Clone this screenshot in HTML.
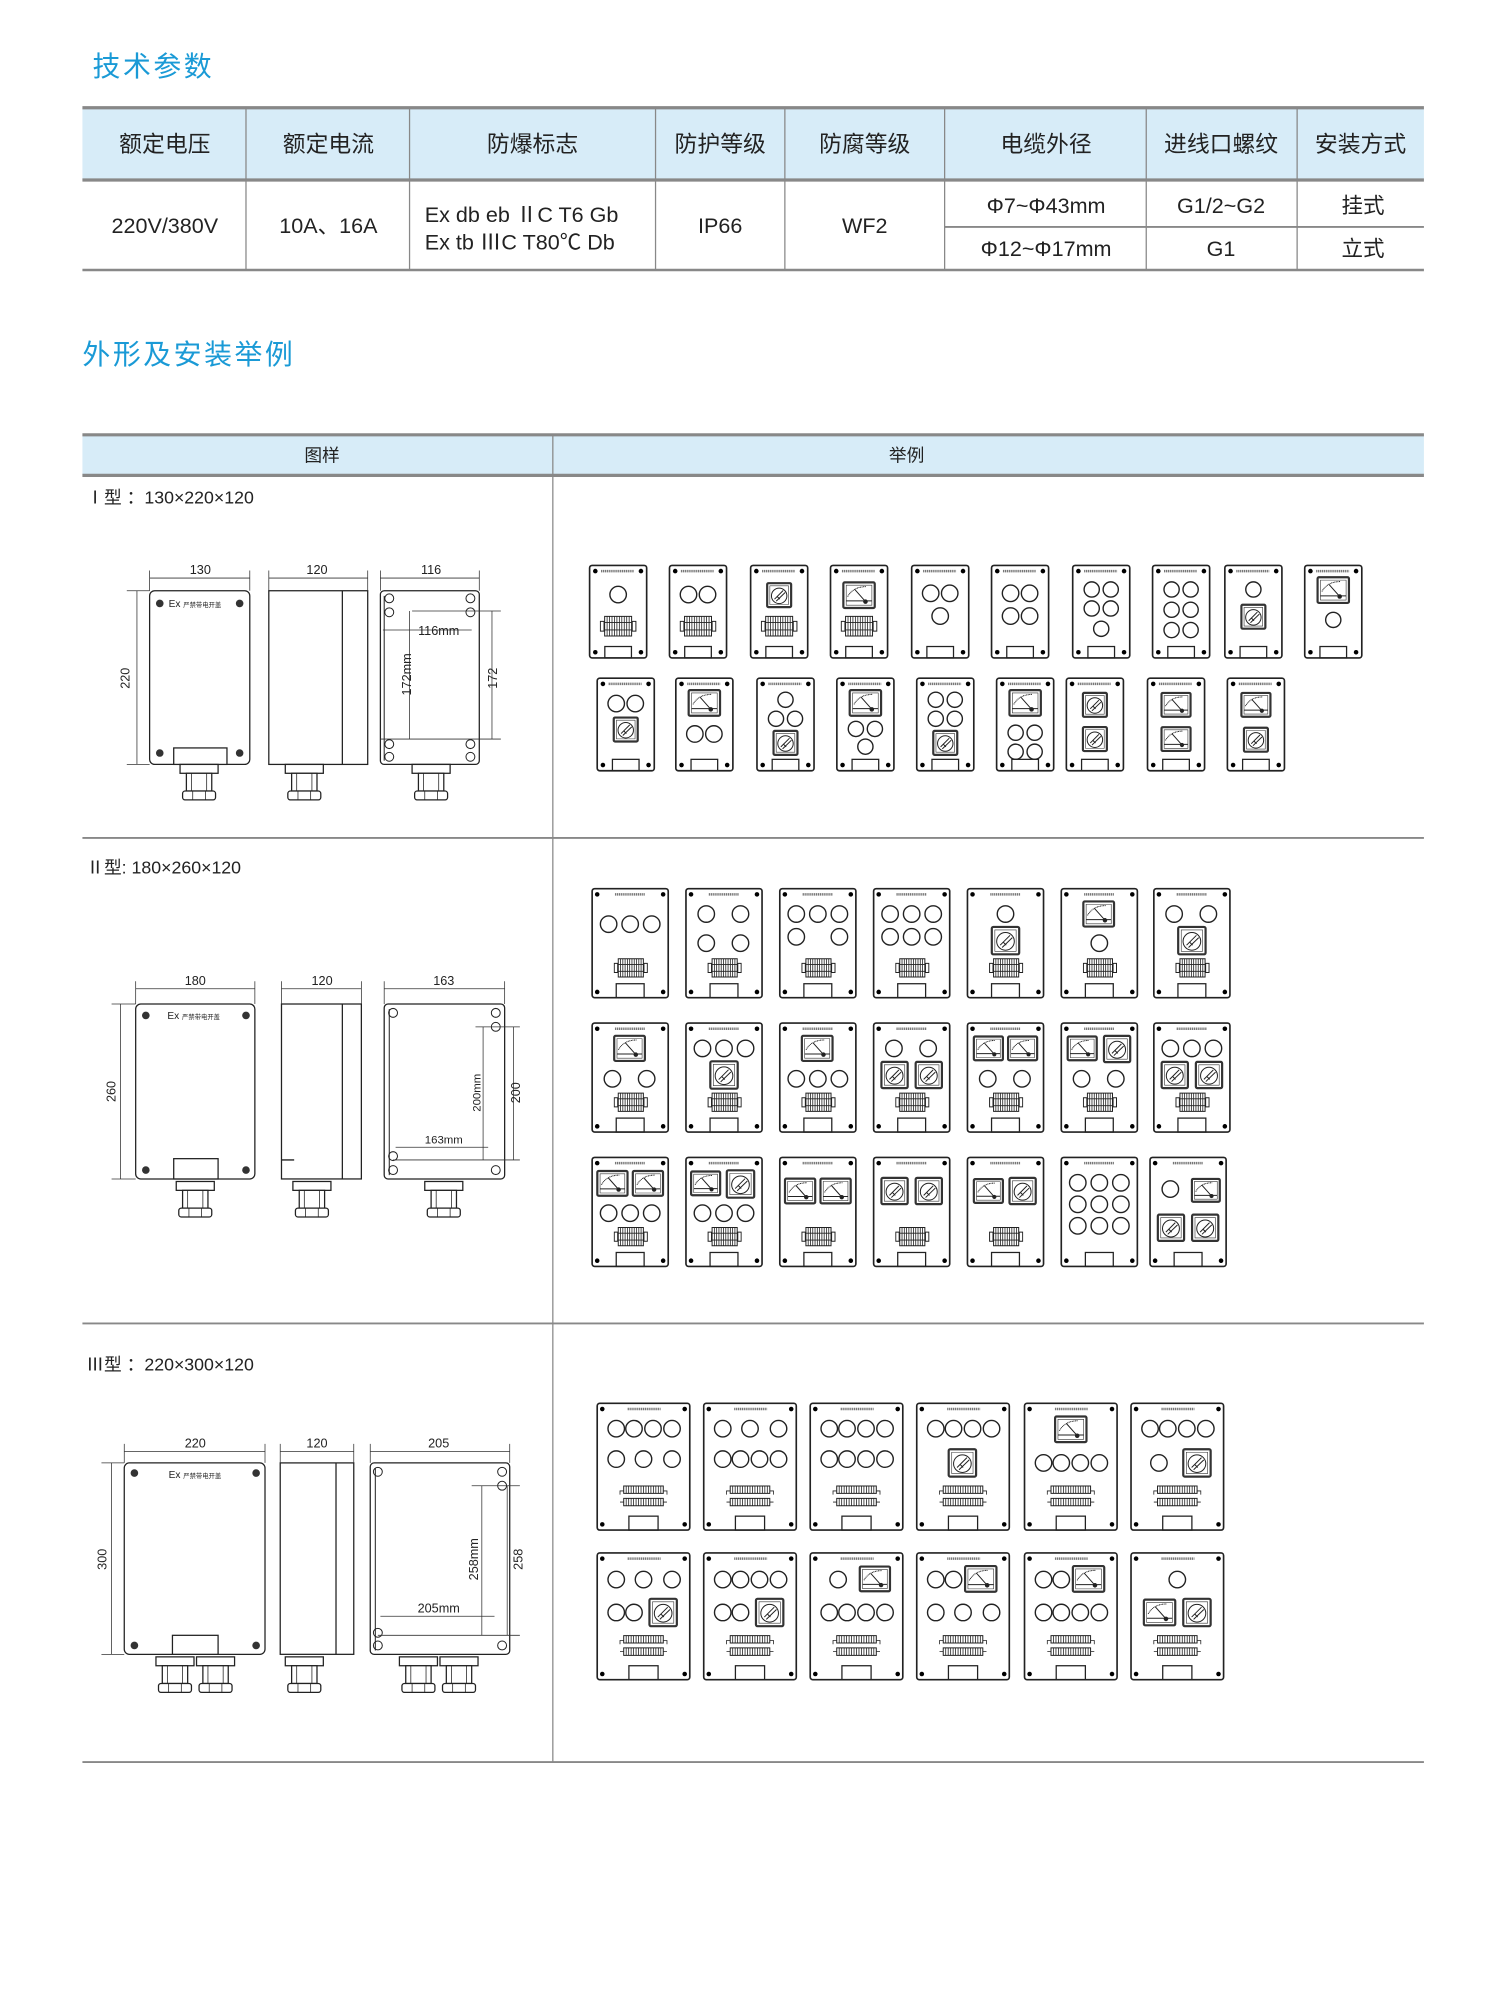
<!DOCTYPE html>
<html><head><meta charset="utf-8">
<style>
html,body{margin:0;padding:0;background:#fff;}
svg{display:block;}
.t{font-family:"Liberation Sans","Noto Sans CJK SC",sans-serif;fill:#222;}
.h{font-family:"Liberation Sans","Noto Sans CJK SC",sans-serif;fill:#1a9ad6;}
.p circle{fill:none;stroke:#222;stroke-width:1.1;}
.p circle.d{fill:#222;stroke:none;}
.dl{stroke:#333;stroke-width:.6;fill:none;}
.ol{stroke:#222;stroke-width:1;fill:#fff;}
</style></head><body>
<svg width="1500" height="1989" viewBox="0 0 1183 1569" preserveAspectRatio="none" xmlns="http://www.w3.org/2000/svg">
<defs>
<symbol id="sw" viewBox="0 0 20 20"><rect x="1" y="1" width="18" height="18" rx="1" fill="#fff" stroke="#333" stroke-width="2.2" vector-effect="non-scaling-stroke"/><rect x="3" y="3" width="14" height="14" fill="none" stroke="#333" stroke-width=".6" vector-effect="non-scaling-stroke"/><circle cx="10" cy="10.5" r="5.8" fill="none" stroke="#222" stroke-width="1" vector-effect="non-scaling-stroke"/><path d="M6.5 13 L13 6.5 M7.8 14.5 L14.5 8 M8.5 11 l2 2" stroke="#222" stroke-width="1" fill="none" vector-effect="non-scaling-stroke"/></symbol>
<symbol id="mt" viewBox="0 0 24 20"><rect x="1" y="1" width="22" height="18" rx="1" fill="#fff" stroke="#333" stroke-width="2.2" vector-effect="non-scaling-stroke"/><rect x="3" y="3" width="18" height="14" fill="none" stroke="#333" stroke-width=".6" vector-effect="non-scaling-stroke"/><path d="M4 11 Q8 4 17 4" stroke="#222" stroke-dasharray="1 .6" stroke-width="1" fill="none" vector-effect="non-scaling-stroke"/><path d="M9 6 L17 15 M3 14 H21" stroke="#222" stroke-width="1" fill="none" vector-effect="non-scaling-stroke"/><circle cx="16.5" cy="14.5" r="1.6" fill="#222"/></symbol>
<symbol id="tb" viewBox="0 0 30 18"><rect x="0.5" y="5" width="3" height="8" fill="#fff" stroke="#222" stroke-width="1" vector-effect="non-scaling-stroke"/><rect x="26.5" y="5" width="3" height="8" fill="#fff" stroke="#222" stroke-width="1" vector-effect="non-scaling-stroke"/><rect x="4" y="1" width="22" height="16" fill="#fff" stroke="#222" stroke-width="1" vector-effect="non-scaling-stroke"/><path d="M6 1V17M8 1V17M10 1V17M12 1V17M14 1V17M16 1V17M18 1V17M20 1V17M22 1V17M24 1V17M4 6H26M4 12H26" stroke="#222" stroke-width=".8" vector-effect="non-scaling-stroke"/></symbol>
<symbol id="tb3" viewBox="0 0 40 18"><rect x="4" y="1" width="32" height="6" fill="#fff" stroke="#222" stroke-width="1" vector-effect="non-scaling-stroke"/><rect x="4" y="11" width="32" height="6" fill="#fff" stroke="#222" stroke-width="1" vector-effect="non-scaling-stroke"/><path d="M1 8V5H4M39 8V5H36M1 14H4M36 14H39M6 1V7M8 1V7M10 1V7M12 1V7M14 1V7M16 1V7M18 1V7M20 1V7M22 1V7M24 1V7M26 1V7M28 1V7M30 1V7M32 1V7M34 1V7M6 11V17M8 11V17M10 11V17M12 11V17M14 11V17M16 11V17M18 11V17M20 11V17M22 11V17M24 11V17M26 11V17M28 11V17M30 11V17M32 11V17M34 11V17" stroke="#222" stroke-width=".8" fill="none" vector-effect="non-scaling-stroke"/></symbol>
<g id="F1"><rect x="0" y="0" width="45" height="73" rx="2" fill="#fff" stroke="#222" stroke-width="1.3"/><circle class="d" cx="4.5" cy="4.5" r="1.8"/><circle class="d" cx="40.5" cy="4.5" r="1.8"/><circle class="d" cx="4.5" cy="68.5" r="1.8"/><circle class="d" cx="40.5" cy="68.5" r="1.8"/><path d="M9 4.5H35" stroke="#777" stroke-width="2" stroke-dasharray="1 .5"/><rect x="12" y="64" width="21" height="9" fill="none" stroke="#222" stroke-width="1"/></g>
<g id="F2"><rect x="0" y="0" width="60" height="86" rx="2" fill="#fff" stroke="#222" stroke-width="1.3"/><circle class="d" cx="4" cy="4.5" r="1.8"/><circle class="d" cx="56" cy="4.5" r="1.8"/><circle class="d" cx="4" cy="81.5" r="1.8"/><circle class="d" cx="56" cy="81.5" r="1.8"/><path d="M18 4.5H42" stroke="#777" stroke-width="2" stroke-dasharray="1 .5"/><rect x="19" y="75" width="22" height="11" fill="none" stroke="#222" stroke-width="1"/></g>
<g id="F3"><rect x="0" y="0" width="73" height="100" rx="2" fill="#fff" stroke="#222" stroke-width="1.3"/><circle class="d" cx="4" cy="4.5" r="1.8"/><circle class="d" cx="69" cy="4.5" r="1.8"/><circle class="d" cx="4" cy="95.5" r="1.8"/><circle class="d" cx="69" cy="95.5" r="1.8"/><path d="M24 4.5H50" stroke="#777" stroke-width="2" stroke-dasharray="1 .5"/><rect x="25" y="89" width="23" height="11" fill="none" stroke="#222" stroke-width="1"/></g>
<g id="GL"><rect x="-15" y="0" width="30" height="7" fill="#fff" stroke="#222" stroke-width="1"/><rect x="-10" y="7" width="20" height="14" fill="#fff" stroke="#222" stroke-width="1"/><path d="M-6 7V21M6 7V21" stroke="#222" stroke-width=".6"/><rect x="-13" y="21" width="26" height="7" rx="2" fill="#fff" stroke="#222" stroke-width="1"/><path d="M-5 21V28M5 21V28" stroke="#222" stroke-width=".6"/></g>
</defs>

<text class="h" x="73" y="60" font-size="22" letter-spacing="2">技术参数</text>
<text class="h" x="65" y="287" font-size="22" letter-spacing="2">外形及安装举例</text>

<rect x="65" y="85" width="1058" height="57" fill="#d7ecf8"/>
<g stroke="#888" fill="none">
<path d="M65 85H1123M65 142H1123" stroke-width="2.5"/>
<path d="M65 213H1123" stroke-width="2"/>
<path d="M745 179H1123" stroke-width="1.5"/>
<path d="M194 85V213M323 85V213M517 85V213M619 85V213M745 85V213M904 85V213M1023 85V213" stroke-width="1"/>
</g>
<g class="t" font-size="18" text-anchor="middle">
<text x="130" y="120">额定电压</text><text x="259" y="120">额定电流</text><text x="420" y="120">防爆标志</text><text x="568" y="120">防护等级</text><text x="682" y="120">防腐等级</text><text x="825" y="120">电缆外径</text><text x="963" y="120">进线口螺纹</text><text x="1073" y="120">安装方式</text>
</g>
<g class="t" font-size="17" text-anchor="middle">
<text x="130" y="184">220V/380V</text><text x="259" y="184">10A、16A</text>
<text x="568" y="184">IP66</text><text x="682" y="184">WF2</text>
<text x="825" y="168">Φ7~Φ43mm</text><text x="825" y="202">Φ12~Φ17mm</text>
<text x="963" y="168">G1/2~G2</text><text x="963" y="202">G1</text>
<text x="1075" y="168">挂式</text><text x="1075" y="202">立式</text>
</g>
<g class="t" font-size="17"><text x="335" y="175">Ex db eb ⅡC T6 Gb</text><text x="335" y="197">Ex tb ⅢC T80℃ Db</text></g>

<rect x="65" y="343" width="1058" height="32" fill="#d7ecf8"/>
<g stroke="#888" fill="none">
<path d="M65 343H1123M65 375H1123" stroke-width="2.5"/>
<path d="M65 661H1123M65 1044H1123M65 1390H1123" stroke-width="1.5"/>
<path d="M436 343V1390" stroke-width="1"/>
</g>
<g class="t" font-size="14" text-anchor="middle"><text x="254" y="364">图样</text><text x="715" y="364">举例</text></g>
<g class="t" font-size="14"><text x="68" y="397">Ⅰ型 ：130×220×120</text><text x="68" y="689">Ⅱ型: 180×260×120</text><text x="68" y="1081">Ⅲ型 ：220×300×120</text></g>

<g>
<rect class="ol" x="118" y="466" width="79" height="137" rx="4"/>
<circle cx="126" cy="476" r="3" fill="#333"/><circle cx="189" cy="476" r="3" fill="#333"/><circle cx="126" cy="594" r="3" fill="#333"/><circle cx="189" cy="594" r="3" fill="#333"/>
<text class="t" x="133" y="479" font-size="8">Ex <tspan font-size="5">严禁带电开盖</tspan></text>
<rect class="ol" x="137" y="590" width="42" height="13"/>
<use href="#GL" x="157" y="603"/>
<path class="dl" d="M118 450V466M197 450V466M118 456H197M100 466H118M100 603H118M108 466V603"/>
<text class="t" x="158" y="453" font-size="10" text-anchor="middle">130</text>
<text class="t" font-size="10" text-anchor="middle" transform="translate(102 535) rotate(-90)">220</text>
<rect class="ol" x="212" y="466" width="78" height="137"/>
<path d="M270 466V603" stroke="#222" stroke-width="1"/>
<use href="#GL" x="240" y="603"/>
<path class="dl" d="M212 450V466M290 450V466M212 456H290"/>
<text class="t" x="250" y="453" font-size="10" text-anchor="middle">120</text>
<rect class="ol" x="300" y="466" width="78" height="137" rx="3"/>
<g fill="none" stroke="#222" stroke-width=".8"><circle cx="307" cy="472" r="3.5"/><circle cx="371" cy="472" r="3.5"/><circle cx="307" cy="597" r="3.5"/><circle cx="371" cy="597" r="3.5"/><circle cx="307" cy="483" r="3.5"/><circle cx="371" cy="483" r="3.5"/><circle cx="307" cy="587" r="3.5"/><circle cx="371" cy="587" r="3.5"/><path d="M303 470V600"/></g>
<use href="#GL" x="340" y="603"/>
<path class="dl" d="M300 450V466M378 450V466M300 456H378M302 497H372M325 482H395M300 583H395M323 482V583M388 482V583"/>
<text class="t" x="340" y="453" font-size="10" text-anchor="middle">116</text>
<text class="t" x="346" y="501" font-size="10" text-anchor="middle">116mm</text>
<text class="t" font-size="10" text-anchor="middle" transform="translate(324 532) rotate(-90)">172mm</text>
<text class="t" font-size="10" text-anchor="middle" transform="translate(392 535) rotate(-90)">172</text>
</g>

<g>
<rect class="ol" x="107" y="792" width="94" height="138" rx="4"/>
<circle cx="115" cy="801" r="3" fill="#333"/><circle cx="194" cy="801" r="3" fill="#333"/><circle cx="115" cy="923" r="3" fill="#333"/><circle cx="194" cy="923" r="3" fill="#333"/>
<text class="t" x="132" y="804" font-size="8">Ex <tspan font-size="5">严禁带电开盖</tspan></text>
<rect class="ol" x="137" y="914" width="35" height="16"/>
<use href="#GL" x="154" y="932"/>
<path class="dl" d="M107 774V792M201 774V792M107 780H201M88 792H107M88 930H107M95 792V930"/>
<text class="t" x="154" y="777" font-size="10" text-anchor="middle">180</text>
<text class="t" font-size="10" text-anchor="middle" transform="translate(91 861) rotate(-90)">260</text>
<rect class="ol" x="222" y="792" width="63" height="138"/>
<path d="M270 792V930M222 915H232" stroke="#222" stroke-width="1"/>
<use href="#GL" x="246" y="932"/>
<path class="dl" d="M222 774V792M285 774V792M222 780H285"/>
<text class="t" x="254" y="777" font-size="10" text-anchor="middle">120</text>
<rect class="ol" x="303" y="792" width="95" height="138" rx="3"/>
<g fill="none" stroke="#222" stroke-width=".8"><circle cx="310" cy="799" r="3.5"/><circle cx="391" cy="799" r="3.5"/><circle cx="310" cy="923" r="3.5"/><circle cx="391" cy="923" r="3.5"/><circle cx="391" cy="810" r="3.5"/><circle cx="310" cy="912" r="3.5"/><path d="M307 796V927"/></g>
<use href="#GL" x="350" y="932"/>
<path class="dl" d="M303 774V792M398 774V792M303 780H398M312 905H385M381 810V915M375 810H410M310 915H410M405 810V915"/>
<text class="t" x="350" y="777" font-size="10" text-anchor="middle">163</text>
<text class="t" x="350" y="902" font-size="9" text-anchor="middle">163mm</text>
<text class="t" font-size="9" text-anchor="middle" transform="translate(379 862) rotate(-90)">200mm</text>
<text class="t" font-size="10" text-anchor="middle" transform="translate(410 862) rotate(-90)">200</text>
</g>

<g>
<rect class="ol" x="98" y="1154" width="111" height="151" rx="4"/>
<circle cx="106" cy="1162" r="3" fill="#333"/><circle cx="202" cy="1162" r="3" fill="#333"/><circle cx="106" cy="1298" r="3" fill="#333"/><circle cx="202" cy="1298" r="3" fill="#333"/>
<text class="t" x="133" y="1166" font-size="8">Ex <tspan font-size="5">严禁带电开盖</tspan></text>
<rect class="ol" x="136" y="1290" width="36" height="15"/>
<use href="#GL" x="138" y="1307"/><use href="#GL" x="170" y="1307"/>
<path class="dl" d="M98 1139V1154M209 1139V1154M98 1145H209M80 1154H98M80 1305H98M88 1154V1305"/>
<text class="t" x="154" y="1142" font-size="10" text-anchor="middle">220</text>
<text class="t" font-size="10" text-anchor="middle" transform="translate(84 1230) rotate(-90)">300</text>
<rect class="ol" x="221" y="1154" width="58" height="151"/>
<path d="M265 1154V1305" stroke="#222" stroke-width="1"/>
<use href="#GL" x="240" y="1307"/>
<path class="dl" d="M221 1139V1154M279 1139V1154M221 1145H279"/>
<text class="t" x="250" y="1142" font-size="10" text-anchor="middle">120</text>
<rect class="ol" x="292" y="1154" width="110" height="151" rx="3"/>
<g fill="none" stroke="#222" stroke-width=".8"><circle cx="298" cy="1161" r="3.5"/><circle cx="396" cy="1161" r="3.5"/><circle cx="298" cy="1298" r="3.5"/><circle cx="396" cy="1298" r="3.5"/><circle cx="396" cy="1172" r="3.5"/><circle cx="298" cy="1288" r="3.5"/><path d="M296 1158V1302"/></g>
<use href="#GL" x="330" y="1307"/><use href="#GL" x="362" y="1307"/>
<path class="dl" d="M292 1139V1154M402 1139V1154M292 1145H402M300 1275H390M380 1172V1290M372 1172H410M298 1290H410M400 1172V1290"/>
<text class="t" x="346" y="1142" font-size="10" text-anchor="middle">205</text>
<text class="t" x="346" y="1272" font-size="10" text-anchor="middle">205mm</text>
<text class="t" font-size="10" text-anchor="middle" transform="translate(377 1230) rotate(-90)">258mm</text>
<text class="t" font-size="10" text-anchor="middle" transform="translate(412 1230) rotate(-90)">258</text>
</g>

<g class="p">
<g transform="translate(465 446)"><use href="#F1"/><circle cx="22.5" cy="23" r="6.5"/><use href="#tb" x="8" y="39" width="29" height="18"/></g>
<g transform="translate(528 446)"><use href="#F1"/><circle cx="15" cy="23" r="6.5"/><circle cx="30" cy="23" r="6.5"/><use href="#tb" x="8" y="39" width="29" height="18"/></g>
<g transform="translate(592 446)"><use href="#F1"/><use href="#sw" x="12" y="12" width="21" height="23"/><use href="#tb" x="8" y="39" width="29" height="18"/></g>
<g transform="translate(655 446)"><use href="#F1"/><use href="#mt" x="9" y="12" width="27" height="23"/><use href="#tb" x="8" y="39" width="29" height="18"/></g>
<g transform="translate(719 446)"><use href="#F1"/><circle cx="15" cy="22" r="6.5"/><circle cx="30" cy="22" r="6.5"/><circle cx="22.5" cy="40" r="6.5"/></g>
<g transform="translate(782 446)"><use href="#F1"/><circle cx="15" cy="22" r="6.5"/><circle cx="30" cy="22" r="6.5"/><circle cx="15" cy="40" r="6.5"/><circle cx="30" cy="40" r="6.5"/></g>
<g transform="translate(846 446)"><use href="#F1"/><circle cx="15" cy="19" r="6"/><circle cx="30" cy="19" r="6"/><circle cx="15" cy="34" r="6"/><circle cx="30" cy="34" r="6"/><circle cx="22.5" cy="50" r="6"/></g>
<g transform="translate(909 446)"><use href="#F1"/><circle cx="15" cy="19" r="6"/><circle cx="30" cy="19" r="6"/><circle cx="15" cy="35" r="6"/><circle cx="30" cy="35" r="6"/><circle cx="15" cy="51" r="6"/><circle cx="30" cy="51" r="6"/></g>
<g transform="translate(966 446)"><use href="#F1"/><circle cx="22.5" cy="19" r="6"/><use href="#sw" x="12" y="29" width="21" height="23"/></g>
<g transform="translate(1029 446)"><use href="#F1"/><use href="#mt" x="9" y="8" width="27" height="23"/><circle cx="22.5" cy="43" r="6"/></g>
</g>
<g class="p">
<g transform="translate(471 535)"><use href="#F1"/><circle cx="15" cy="20" r="6.5"/><circle cx="30" cy="20" r="6.5"/><use href="#sw" x="12" y="29" width="21" height="23"/></g>
<g transform="translate(533 535)"><use href="#F1"/><use href="#mt" x="9" y="8" width="27" height="23"/><circle cx="15" cy="44" r="6.5"/><circle cx="30" cy="44" r="6.5"/></g>
<g transform="translate(597 535)"><use href="#F1"/><circle cx="22.5" cy="17" r="6"/><circle cx="15" cy="32" r="6"/><circle cx="30" cy="32" r="6"/><use href="#sw" x="12" y="40" width="21" height="22"/></g>
<g transform="translate(660 535)"><use href="#F1"/><use href="#mt" x="9" y="8" width="27" height="23"/><circle cx="15" cy="40" r="6"/><circle cx="30" cy="40" r="6"/><circle cx="22.5" cy="54" r="6"/></g>
<g transform="translate(723 535)"><use href="#F1"/><circle cx="15" cy="17" r="6"/><circle cx="30" cy="17" r="6"/><circle cx="15" cy="32" r="6"/><circle cx="30" cy="32" r="6"/><use href="#sw" x="12" y="40" width="21" height="22"/></g>
<g transform="translate(786 535)"><use href="#F1"/><use href="#mt" x="9" y="8" width="27" height="23"/><circle cx="15" cy="43" r="6"/><circle cx="30" cy="43" r="6"/><circle cx="15" cy="58" r="6"/><circle cx="30" cy="58" r="6"/></g>
<g transform="translate(841 535)"><use href="#F1"/><use href="#sw" x="12" y="9" width="21" height="24"/><use href="#sw" x="12" y="36" width="21" height="24"/></g>
<g transform="translate(905 535)"><use href="#F1"/><use href="#mt" x="10" y="9" width="25" height="24"/><use href="#mt" x="10" y="36" width="25" height="24"/></g>
<g transform="translate(968 535)"><use href="#F1"/><use href="#mt" x="10" y="9" width="25" height="24"/><use href="#sw" x="12" y="37" width="21" height="23"/></g>
</g>

<g class="p">
<g transform="translate(467 701)"><use href="#F2"/><circle cx="13" cy="28" r="6.5"/><circle cx="30" cy="28" r="6.5"/><circle cx="47" cy="28" r="6.5"/><use href="#tb" x="17" y="54" width="27" height="17"/></g>
<g transform="translate(541 701)"><use href="#F2"/><circle cx="16" cy="20" r="6.5"/><circle cx="43" cy="20" r="6.5"/><circle cx="16" cy="43" r="6.5"/><circle cx="43" cy="43" r="6.5"/><use href="#tb" x="17" y="54" width="27" height="17"/></g>
<g transform="translate(615 701)"><use href="#F2"/><circle cx="13" cy="20" r="6.5"/><circle cx="30" cy="20" r="6.5"/><circle cx="47" cy="20" r="6.5"/><circle cx="13" cy="38" r="6.5"/><circle cx="47" cy="38" r="6.5"/><use href="#tb" x="17" y="54" width="27" height="17"/></g>
<g transform="translate(689 701)"><use href="#F2"/><circle cx="13" cy="20" r="6.5"/><circle cx="30" cy="20" r="6.5"/><circle cx="47" cy="20" r="6.5"/><circle cx="13" cy="38" r="6.5"/><circle cx="30" cy="38" r="6.5"/><circle cx="47" cy="38" r="6.5"/><use href="#tb" x="17" y="54" width="27" height="17"/></g>
<g transform="translate(763 701)"><use href="#F2"/><circle cx="30" cy="20" r="6.5"/><use href="#sw" x="18" y="29" width="24" height="24"/><use href="#tb" x="17" y="54" width="27" height="17"/></g>
<g transform="translate(837 701)"><use href="#F2"/><use href="#mt" x="16" y="9" width="27" height="22"/><circle cx="30" cy="43" r="6.5"/><use href="#tb" x="17" y="54" width="27" height="17"/></g>
<g transform="translate(910 701)"><use href="#F2"/><circle cx="16" cy="20" r="6.5"/><circle cx="43" cy="20" r="6.5"/><use href="#sw" x="18" y="29" width="24" height="24"/><use href="#tb" x="17" y="54" width="27" height="17"/></g>

<g transform="translate(467 807)"><use href="#F2"/><use href="#mt" x="16" y="9" width="27" height="22"/><circle cx="16" cy="44" r="6.5"/><circle cx="43" cy="44" r="6.5"/><use href="#tb" x="17" y="54" width="27" height="17"/></g>
<g transform="translate(541 807)"><use href="#F2"/><circle cx="13" cy="20" r="6.5"/><circle cx="30" cy="20" r="6.5"/><circle cx="47" cy="20" r="6.5"/><use href="#sw" x="18" y="29" width="24" height="24"/><use href="#tb" x="17" y="54" width="27" height="17"/></g>
<g transform="translate(615 807)"><use href="#F2"/><use href="#mt" x="16" y="9" width="27" height="22"/><circle cx="13" cy="44" r="6.5"/><circle cx="30" cy="44" r="6.5"/><circle cx="47" cy="44" r="6.5"/><use href="#tb" x="17" y="54" width="27" height="17"/></g>
<g transform="translate(689 807)"><use href="#F2"/><circle cx="16" cy="20" r="6.5"/><circle cx="43" cy="20" r="6.5"/><use href="#sw" x="5" y="29" width="23" height="24"/><use href="#sw" x="32" y="29" width="23" height="24"/><use href="#tb" x="17" y="54" width="27" height="17"/></g>
<g transform="translate(763 807)"><use href="#F2"/><use href="#mt" x="4" y="9" width="25" height="22"/><use href="#mt" x="31" y="9" width="25" height="22"/><circle cx="16" cy="44" r="6.5"/><circle cx="43" cy="44" r="6.5"/><use href="#tb" x="17" y="54" width="27" height="17"/></g>
<g transform="translate(837 807)"><use href="#F2"/><use href="#mt" x="4" y="9" width="25" height="22"/><use href="#sw" x="32" y="9" width="24" height="23"/><circle cx="16" cy="44" r="6.5"/><circle cx="43" cy="44" r="6.5"/><use href="#tb" x="17" y="54" width="27" height="17"/></g>
<g transform="translate(910 807)"><use href="#F2"/><circle cx="13" cy="20" r="6.5"/><circle cx="30" cy="20" r="6.5"/><circle cx="47" cy="20" r="6.5"/><use href="#sw" x="5" y="29" width="23" height="24"/><use href="#sw" x="32" y="29" width="23" height="24"/><use href="#tb" x="17" y="54" width="27" height="17"/></g>

<g transform="translate(467 913)"><use href="#F2"/><use href="#mt" x="3" y="9" width="26" height="23"/><use href="#mt" x="31" y="9" width="26" height="23"/><circle cx="13" cy="44" r="6.5"/><circle cx="30" cy="44" r="6.5"/><circle cx="47" cy="44" r="6.5"/><use href="#tb" x="17" y="54" width="27" height="17"/></g>
<g transform="translate(541 913)"><use href="#F2"/><use href="#mt" x="3" y="9" width="25" height="23"/><use href="#sw" x="31" y="9" width="24" height="24"/><circle cx="13" cy="44" r="6.5"/><circle cx="30" cy="44" r="6.5"/><circle cx="47" cy="44" r="6.5"/><use href="#tb" x="17" y="54" width="27" height="17"/></g>
<g transform="translate(615 913)"><use href="#F2"/><use href="#mt" x="3" y="15" width="26" height="23"/><use href="#mt" x="31" y="15" width="26" height="23"/><use href="#tb" x="17" y="54" width="27" height="17"/></g>
<g transform="translate(689 913)"><use href="#F2"/><use href="#sw" x="5" y="15" width="23" height="23"/><use href="#sw" x="32" y="15" width="23" height="23"/><use href="#tb" x="17" y="54" width="27" height="17"/></g>
<g transform="translate(763 913)"><use href="#F2"/><use href="#mt" x="4" y="15" width="25" height="23"/><use href="#sw" x="32" y="15" width="23" height="23"/><use href="#tb" x="17" y="54" width="27" height="17"/></g>
<g transform="translate(837 913)"><use href="#F2"/><circle cx="13" cy="20" r="6.5"/><circle cx="30" cy="20" r="6.5"/><circle cx="47" cy="20" r="6.5"/><circle cx="13" cy="37" r="6.5"/><circle cx="30" cy="37" r="6.5"/><circle cx="47" cy="37" r="6.5"/><circle cx="13" cy="54" r="6.5"/><circle cx="30" cy="54" r="6.5"/><circle cx="47" cy="54" r="6.5"/></g>
<g transform="translate(907 913)"><use href="#F2"/><circle cx="16" cy="25" r="6.5"/><use href="#mt" x="32" y="15" width="24" height="22"/><use href="#sw" x="5" y="44" width="23" height="23"/><use href="#sw" x="32" y="44" width="23" height="23"/></g>
</g>

<g class="p">
<g transform="translate(471 1107)"><use href="#F3"/><circle cx="15" cy="20" r="6.5"/><circle cx="29" cy="20" r="6.5"/><circle cx="44" cy="20" r="6.5"/><circle cx="59" cy="20" r="6.5"/><circle cx="15" cy="44" r="6.5"/><circle cx="36.5" cy="44" r="6.5"/><circle cx="59" cy="44" r="6.5"/><use href="#tb3" x="17" y="64" width="39" height="18"/></g>
<g transform="translate(555 1107)"><use href="#F3"/><circle cx="15" cy="20" r="6.5"/><circle cx="36.5" cy="20" r="6.5"/><circle cx="59" cy="20" r="6.5"/><circle cx="15" cy="44" r="6.5"/><circle cx="29" cy="44" r="6.5"/><circle cx="44" cy="44" r="6.5"/><circle cx="59" cy="44" r="6.5"/><use href="#tb3" x="17" y="64" width="39" height="18"/></g>
<g transform="translate(639 1107)"><use href="#F3"/><circle cx="15" cy="20" r="6.5"/><circle cx="29" cy="20" r="6.5"/><circle cx="44" cy="20" r="6.5"/><circle cx="59" cy="20" r="6.5"/><circle cx="15" cy="44" r="6.5"/><circle cx="29" cy="44" r="6.5"/><circle cx="44" cy="44" r="6.5"/><circle cx="59" cy="44" r="6.5"/><use href="#tb3" x="17" y="64" width="39" height="18"/></g>
<g transform="translate(723 1107)"><use href="#F3"/><circle cx="15" cy="20" r="6.5"/><circle cx="29" cy="20" r="6.5"/><circle cx="44" cy="20" r="6.5"/><circle cx="59" cy="20" r="6.5"/><use href="#sw" x="24" y="35" width="24" height="24"/><use href="#tb3" x="17" y="64" width="39" height="18"/></g>
<g transform="translate(808 1107)"><use href="#F3"/><use href="#mt" x="23" y="9" width="27" height="23"/><circle cx="15" cy="47" r="6.5"/><circle cx="29" cy="47" r="6.5"/><circle cx="44" cy="47" r="6.5"/><circle cx="59" cy="47" r="6.5"/><use href="#tb3" x="17" y="64" width="39" height="18"/></g>
<g transform="translate(892 1107)"><use href="#F3"/><circle cx="15" cy="20" r="6.5"/><circle cx="29" cy="20" r="6.5"/><circle cx="44" cy="20" r="6.5"/><circle cx="59" cy="20" r="6.5"/><circle cx="22" cy="47" r="6.5"/><use href="#sw" x="40" y="35" width="24" height="24"/><use href="#tb3" x="17" y="64" width="39" height="18"/></g>

<g transform="translate(471 1225)"><use href="#F3"/><circle cx="15" cy="21" r="6.5"/><circle cx="36.5" cy="21" r="6.5"/><circle cx="59" cy="21" r="6.5"/><circle cx="15" cy="47" r="6.5"/><circle cx="29" cy="47" r="6.5"/><use href="#sw" x="40" y="35" width="24" height="24"/><use href="#tb3" x="17" y="64" width="39" height="18"/></g>
<g transform="translate(555 1225)"><use href="#F3"/><circle cx="15" cy="21" r="6.5"/><circle cx="29" cy="21" r="6.5"/><circle cx="44" cy="21" r="6.5"/><circle cx="59" cy="21" r="6.5"/><circle cx="15" cy="47" r="6.5"/><circle cx="29" cy="47" r="6.5"/><use href="#sw" x="40" y="35" width="24" height="24"/><use href="#tb3" x="17" y="64" width="39" height="18"/></g>
<g transform="translate(639 1225)"><use href="#F3"/><circle cx="22" cy="21" r="6.5"/><use href="#mt" x="38" y="9" width="26" height="23"/><circle cx="15" cy="47" r="6.5"/><circle cx="29" cy="47" r="6.5"/><circle cx="44" cy="47" r="6.5"/><circle cx="59" cy="47" r="6.5"/><use href="#tb3" x="17" y="64" width="39" height="18"/></g>
<g transform="translate(723 1225)"><use href="#F3"/><circle cx="15" cy="21" r="6.5"/><circle cx="29" cy="21" r="6.5"/><use href="#mt" x="37" y="9" width="27" height="23"/><circle cx="15" cy="47" r="6.5"/><circle cx="36.5" cy="47" r="6.5"/><circle cx="59" cy="47" r="6.5"/><use href="#tb3" x="17" y="64" width="39" height="18"/></g>
<g transform="translate(808 1225)"><use href="#F3"/><circle cx="15" cy="21" r="6.5"/><circle cx="29" cy="21" r="6.5"/><use href="#mt" x="37" y="9" width="27" height="23"/><circle cx="15" cy="47" r="6.5"/><circle cx="29" cy="47" r="6.5"/><circle cx="44" cy="47" r="6.5"/><circle cx="59" cy="47" r="6.5"/><use href="#tb3" x="17" y="64" width="39" height="18"/></g>
<g transform="translate(892 1225)"><use href="#F3"/><circle cx="36.5" cy="21" r="6.5"/><use href="#mt" x="9" y="35" width="27" height="24"/><use href="#sw" x="40" y="35" width="24" height="24"/><use href="#tb3" x="17" y="64" width="39" height="18"/></g>
</g>
</svg>
</body></html>
